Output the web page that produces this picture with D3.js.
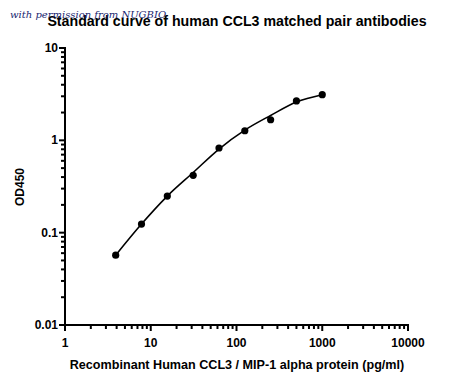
<!DOCTYPE html>
<html><head><meta charset="utf-8">
<script src="https://cdn.jsdelivr.net/npm/d3@7"></script>
<style>body{margin:0;background:#fff}svg{display:block}</style>
</head><body>
<script>
const concentrations = [3.9, 7.8, 15.6, 31.25, 62.5, 125, 250, 500, 1000];
const odValues = [0.057, 0.124, 0.249, 0.418, 0.826, 1.27, 1.67, 2.67, 3.12];
const fitValues = [0.057, 0.124, 0.249, 0.448, 0.805, 1.29, 1.86, 2.60, 3.12];
const xTicks = [1, 10, 100, 1000, 10000];
const yTicks = [0.01, 0.1, 1, 10];
const yTickLabels = ["0.01", "0.1", "1", "10"];

const W = 450, H = 383;
const mLeft = 65, mRight = 408, mTop = 48, mBottom = 325;
const svg = d3.select("body").append("svg").attr("width", W).attr("height", H);
const x = d3.scaleLog().domain([1, 10000]).range([mLeft, mRight]);
const y = d3.scaleLog().domain([0.01, 10]).range([mBottom, mTop]);
const font = "Arial, 'Liberation Sans', sans-serif";

const minorX = [], minorY = [];
for (let d = 1; d < 10000; d *= 10) for (let k = 2; k <= 9; k++) minorX.push(d * k);
for (let d = 0.01; d < 10; d *= 10) for (let k = 2; k <= 9; k++) minorY.push(+(d * k).toPrecision(3));

const xAxis = svg.append("g").attr("transform", `translate(0,${mBottom})`);
xAxis.append("line").attr("x1", mLeft - 1).attr("x2", mRight + 1).attr("stroke", "#000").attr("stroke-width", 2);
xAxis.selectAll(".mx").data(minorX).join("line").attr("x1", d => x(d)).attr("x2", d => x(d))
  .attr("y1", 0).attr("y2", 4).attr("stroke", "#000").attr("stroke-width", 2);
xAxis.selectAll(".Mx").data(xTicks).join("line").attr("x1", d => x(d)).attr("x2", d => x(d))
  .attr("y1", 0).attr("y2", 6).attr("stroke", "#000").attr("stroke-width", 2);
xAxis.selectAll("text").data(xTicks).join("text").attr("x", d => x(d)).attr("y", 22)
  .attr("text-anchor", "middle").attr("font-family", font).attr("font-weight", "bold")
  .attr("font-size", 12).text(d => d);

const yAxis = svg.append("g").attr("transform", `translate(${mLeft},0)`);
yAxis.append("line").attr("y1", mTop - 1).attr("y2", mBottom + 1).attr("stroke", "#000").attr("stroke-width", 2);
yAxis.selectAll(".my").data(minorY).join("line").attr("y1", d => y(d)).attr("y2", d => y(d))
  .attr("x1", 0).attr("x2", -4).attr("stroke", "#000").attr("stroke-width", 2);
yAxis.selectAll(".My").data(yTicks).join("line").attr("y1", d => y(d)).attr("y2", d => y(d))
  .attr("x1", 0).attr("x2", -6).attr("stroke", "#000").attr("stroke-width", 2);
yAxis.selectAll("text").data(yTicks).join("text").attr("x", -7).attr("y", d => y(d) + 4)
  .attr("text-anchor", "end").attr("font-family", font).attr("font-weight", "bold")
  .attr("font-size", 12).text((d, i) => yTickLabels[i]);

const fitData = concentrations.map((c, i) => [c, fitValues[i]]);
svg.append("path").datum(fitData)
  .attr("d", d3.line().x(d => x(d[0])).y(d => y(d[1])).curve(d3.curveMonotoneX))
  .attr("fill", "none").attr("stroke", "#000").attr("stroke-width", 1.6);

svg.selectAll(".pt").data(concentrations).join("circle")
  .attr("cx", d => x(d)).attr("cy", (d, i) => y(odValues[i])).attr("r", 3.6).attr("fill", "#000");

svg.append("text").attr("x", 237).attr("y", 26).attr("text-anchor", "middle")
  .attr("font-family", font).attr("font-weight", "bold").attr("font-size", 14.2)
  .text("Standard curve of human CCL3 matched pair antibodies");
svg.append("text").attr("x", 10).attr("y", 18)
  .attr("font-family", "'DejaVu Serif', 'Liberation Serif', serif").attr("font-style", "italic")
  .attr("font-size", 10).attr("fill", "#1a2670")
  .text("with permission from NUGBIO");
svg.append("text").attr("x", 237).attr("y", 369).attr("text-anchor", "middle")
  .attr("font-family", font).attr("font-weight", "bold").attr("font-size", 12.6)
  .text("Recombinant Human CCL3 / MIP-1 alpha protein (pg/ml)");
svg.append("text").attr("transform", "translate(24,187) rotate(-90)").attr("text-anchor", "middle")
  .attr("font-family", font).attr("font-weight", "bold").attr("font-size", 12)
  .text("OD450");
</script>
</body></html>
